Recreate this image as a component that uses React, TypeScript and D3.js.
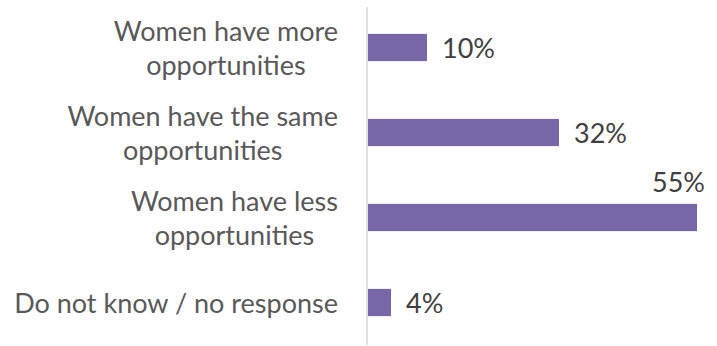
import React, { useEffect, useRef } from "react";
import * as d3 from "d3";

const categories = [
  "Women have more opportunities",
  "Women have the same opportunities",
  "Women have less opportunities",
  "Do not know / no response",
];
const categoryLines = [
  ["Women have more", "opportunities"],
  ["Women have the same", "opportunities"],
  ["Women have less", "opportunities"],
  ["Do not know / no response"],
];
const values = [10, 32, 55, 4];
const valueLabels = ["10%", "32%", "55%", "4%"];

const W = 717;
const H = 346;
const FONT = "Lato, 'Open Sans', sans-serif";
const TEXT = "#595959";
const BAR = "#7767a9";

export default function App() {
  const ref = useRef<SVGSVGElement>(null);
  useEffect(() => {
    const svg = d3.select(ref.current);
    svg.selectAll("*").remove();
    const x = d3.scaleLinear().domain([0, 55]).range([367, 697]);
    const y = d3
      .scaleBand<string>()
      .domain(categories)
      .range([5, 345])
      .paddingInner(0.68)
      .paddingOuter(0.34);

    svg
      .append("line")
      .attr("x1", x(0))
      .attr("x2", x(0))
      .attr("y1", 7)
      .attr("y2", 345)
      .attr("stroke", "#d9d9d9")
      .attr("stroke-width", 1.5);

    svg
      .selectAll("rect.bar")
      .data(values)
      .join("rect")
      .attr("class", "bar")
      .attr("x", x(0) + 1)
      .attr("y", (_, i) => y(categories[i])!)
      .attr("width", (d) => x(d) - x(0) - 1)
      .attr("height", y.bandwidth())
      .attr("fill", BAR);

    const right = 338;
    const lineGap = 34;
    categories.forEach((c, i) => {
      const cy = y(c)! + y.bandwidth() / 2;
      const lines = categoryLines[i];
      const g = svg.append("g");
      const texts = lines.map((l, j) =>
        g
          .append("text")
          .attr("y", cy + 10 + (j - (lines.length - 1) / 2) * lineGap)
          .attr("font-family", FONT)
          .attr("font-size", 27)
          .attr("fill", TEXT)
          .attr("text-anchor", "middle")
          .text(l)
      );
      const widths = texts.map((t) => (t.node() as SVGTextElement).getComputedTextLength());
      const maxW = Math.max(...widths);
      texts.forEach((t) => t.attr("x", right - maxW / 2));
    });

    values.forEach((v, i) => {
      const cy = y(categories[i])! + y.bandwidth() / 2;
      const overflow = i === 2;
      svg
        .append("text")
        .attr("x", overflow ? x(v) + 8 : x(v) + 15)
        .attr("y", overflow ? y(categories[i])! - 12 : cy + 10.5)
        .attr("text-anchor", overflow ? "end" : "start")
        .attr("font-family", FONT)
        .attr("font-size", 27)
        .attr("fill", "#404040")
        .text(valueLabels[i]);
    });
  }, []);
  return (
    <svg
      ref={ref}
      width={W}
      height={H}
      style={{ position: "absolute", left: 0, top: 0, background: "#fff" }}
    />
  );
}
